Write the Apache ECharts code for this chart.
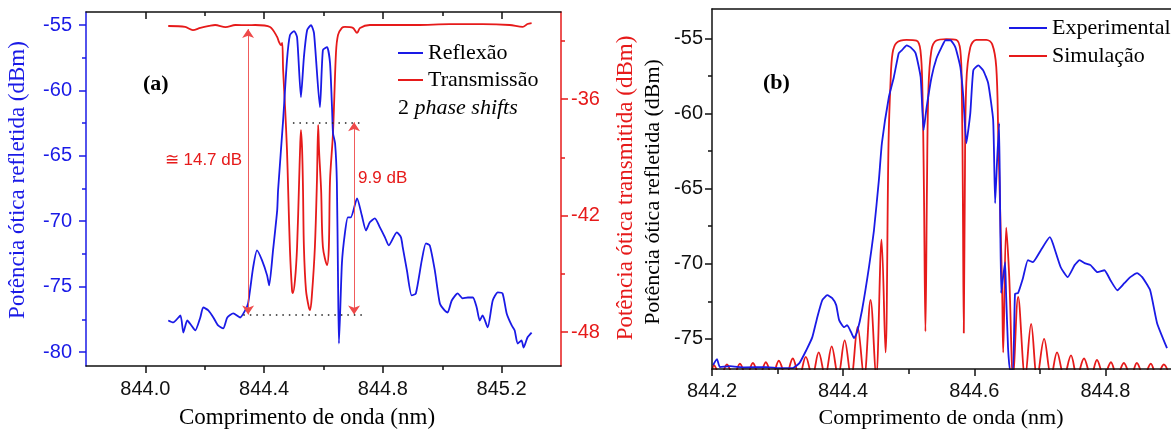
<!DOCTYPE html>
<html>
<head>
<meta charset="utf-8">
<script src="https://cdn.jsdelivr.net/npm/echarts@6/dist/echarts.min.js"></script>
<style>
  html, body { margin: 0; padding: 0; background: #fff; }
  #chart { width: 1171px; height: 433px; }
</style>
</head>
<body>
<div id="chart"></div>
<script>
// ---------- Panel (a): measured spectra, [wavelength nm, dBm] ----------
const reflexao = [
  [844.077,-77.59],[844.094,-77.74],[844.118,-77.21],[844.128,-78.51],[844.141,-77.59],[844.155,-77.97],
  [844.168,-78.35],[844.185,-77.36],[844.195,-76.59],[844.212,-76.82],[844.229,-77.36],[844.245,-77.97],
  [844.262,-78.20],[844.276,-77.36],[844.296,-77.05],[844.319,-77.36],[844.336,-76.82],[844.346,-76.29],
  [844.363,-73.53],[844.376,-72.23],[844.393,-72.99],[844.410,-74.14],[844.417,-74.91],[844.430,-72.23],
  [844.444,-69.17],[844.447,-67.63],[844.464,-62.27],[844.477,-57.68],[844.487,-55.77],[844.501,-55.46],
  [844.511,-55.92],[844.524,-60.51],[844.534,-57.45],[844.545,-55.38],[844.558,-55.00],[844.568,-55.61],
  [844.588,-61.28],[844.598,-56.91],[844.612,-56.68],[844.622,-57.91],[844.629,-61.51],[844.632,-63.27],
  [844.639,-64.04],[844.645,-67.00],[844.649,-74.53],[844.652,-79.35],[844.662,-73.22],[844.672,-70.93],
  [844.682,-69.70],[844.692,-69.70],[844.713,-68.25],[844.729,-69.55],[844.743,-70.70],[844.756,-70.08],
  [844.773,-69.78],[844.790,-70.47],[844.807,-71.23],[844.820,-71.85],[844.847,-70.85],[844.861,-71.23],
  [844.867,-72.00],[844.881,-73.76],[844.897,-75.67],[844.911,-75.52],[844.931,-72.99],[844.945,-71.69],
  [844.958,-71.85],[844.975,-73.76],[844.992,-76.29],[845.008,-76.82],[845.018,-76.98],[845.032,-76.06],
  [845.052,-75.52],[845.069,-75.90],[845.086,-75.83],[845.103,-75.83],[845.116,-76.59],[845.126,-77.59],
  [845.136,-77.21],[845.153,-78.12],[845.170,-76.06],[845.187,-75.44],[845.203,-75.52],[845.217,-77.05],
  [845.234,-77.97],[845.244,-78.35],[845.254,-79.35],[845.267,-79.12],[845.274,-79.66],[845.287,-78.89],
  [845.301,-78.51]
];

const transmissao = [
  [844.077,-32.24],[844.134,-32.29],[844.160,-32.45],[844.185,-32.34],[844.215,-32.24],[844.235,-32.19],
  [844.270,-32.30],[844.303,-32.19],[844.346,-32.20],[844.370,-32.19],[844.420,-32.29],[844.444,-32.81],
  [844.450,-33.06],[844.457,-33.22],[844.461,-33.11],[844.464,-34.51],[844.471,-36.57],[844.477,-38.63],
  [844.481,-40.69],[844.487,-43.78],[844.494,-45.84],[844.497,-45.99],[844.504,-45.32],[844.511,-43.62],
  [844.518,-40.17],[844.521,-38.63],[844.524,-37.60],[844.528,-38.63],[844.531,-40.69],[844.534,-43.62],
  [844.541,-45.84],[844.551,-46.76],[844.555,-46.87],[844.561,-46.09],[844.571,-43.62],[844.578,-40.17],
  [844.582,-37.34],[844.585,-38.63],[844.592,-40.69],[844.598,-43.62],[844.612,-44.55],[844.618,-43.62],
  [844.622,-40.17],[844.632,-37.75],[844.642,-33.63],[844.649,-32.70],[844.662,-32.34],[844.672,-32.29],
  [844.699,-32.34],[844.713,-32.60],[844.723,-32.34],[844.756,-32.19],[844.847,-32.19],[844.914,-32.19],
  [845.025,-32.14],[845.136,-32.14],[845.227,-32.19],[845.271,-32.29],[845.287,-32.14],[845.301,-32.09]
];

// ---------- Panel (b): measured vs simulated reflection ----------
const experimental = [
  [844.2015,-76.74],[844.2076,-76.34],[844.2121,-76.87],[844.2273,-76.81],[844.2500,-76.90],[844.2833,-76.87],
  [844.3030,-76.94],[844.3227,-76.94],[844.3333,-76.61],[844.3439,-75.74],[844.3530,-74.88],[844.3606,-73.55],
  [844.3682,-72.42],[844.3758,-72.09],[844.3833,-72.29],[844.3894,-72.75],[844.3939,-73.75],[844.4015,-74.22],
  [844.4061,-74.08],[844.4121,-74.55],[844.4167,-74.95],[844.4212,-74.55],[844.4288,-73.09],[844.4394,-70.23],
  [844.4470,-67.77],[844.4545,-64.44],[844.4591,-61.98],[844.4697,-58.92],[844.4773,-57.59],[844.4848,-56.00],
  [844.4894,-55.80],[844.4970,-55.47],[844.5030,-55.60],[844.5106,-56.00],[844.5182,-57.59],[844.5227,-61.12],
  [844.5273,-59.59],[844.5348,-57.59],[844.5424,-56.33],[844.5500,-55.60],[844.5561,-55.13],[844.5636,-55.13],
  [844.5712,-55.60],[844.5788,-56.93],[844.5833,-58.92],[844.5879,-61.98],[844.5939,-59.99],[844.5985,-57.13],
  [844.6061,-56.80],[844.6136,-57.13],[844.6212,-57.99],[844.6288,-60.45],[844.6318,-65.97],[844.6348,-63.11],
  [844.6379,-60.65],[844.6409,-71.95],[844.6439,-70.89],[844.6470,-69.89],[844.6485,-72.00],[844.6515,-75.60],
  [844.6545,-77.07],[844.6591,-77.07],[844.6621,-72.00],[844.6667,-71.95],[844.6742,-70.96],[844.6818,-69.76],
  [844.6894,-69.89],[844.7015,-69.10],[844.7152,-68.23],[844.7197,-68.63],[844.7318,-70.23],[844.7424,-70.89],
  [844.7530,-70.09],[844.7606,-69.76],[844.7682,-69.96],[844.7773,-70.09],[844.7879,-70.56],[844.7985,-70.43],
  [844.8076,-71.09],[844.8182,-71.76],[844.8288,-71.29],[844.8379,-70.89],[844.8485,-70.62],[844.8561,-70.89],
  [844.8682,-71.76],[844.8788,-73.95],[844.8939,-75.61]
];

const simulacao = [
  [844.2000,-77.2],[844.2030,-76.75],[844.2129,-77.5],[844.2228,-76.7],[844.2327,-77.5],[844.2426,-76.65],
  [844.2525,-77.5],[844.2624,-76.6],[844.2722,-77.5],[844.2821,-76.55],[844.2920,-77.5],[844.3019,-76.45],
  [844.3125,-77.5],[844.3232,-76.3],[844.3331,-77.5],[844.3430,-76.2],[844.3529,-77.5],[844.3627,-75.9],
  [844.3726,-77.5],[844.3825,-75.5],[844.3924,-77.5],[844.4023,-75.1],[844.4122,-77.6],[844.4221,-74.2],
  [844.4319,-77.6],[844.4418,-72.4],[844.4502,-77.6],[844.4586,-68.4],[844.4646,-75.9],[844.4692,-62.0],
  [844.4722,-58.0],[844.4753,-56.0],[844.4814,-55.3],[844.4966,-55.1],[844.5118,-55.15],[844.5179,-55.8],
  [844.5209,-58.5],[844.5232,-65.0],[844.5255,-74.5],[844.5278,-65.0],[844.5300,-58.5],[844.5346,-55.8],
  [844.5422,-55.15],[844.5574,-55.05],[844.5726,-55.1],[844.5787,-55.8],[844.5810,-58.5],[844.5825,-65.0],
  [844.5840,-74.6],[844.5856,-65.0],[844.5878,-58.0],[844.5939,-55.6],[844.6030,-55.1],[844.6183,-55.1],
  [844.6274,-55.4],[844.6335,-56.9],[844.6365,-61.3],[844.6395,-66.5],[844.6426,-72.0],[844.6441,-75.9],
  [844.6487,-67.6],[844.6532,-70.8],[844.6593,-77.6],[844.6669,-72.2],[844.6776,-77.6],[844.6867,-74.0],
  [844.6958,-77.6],[844.7065,-75.0],[844.7171,-77.5],[844.7262,-75.9],[844.7369,-77.5],[844.7475,-76.1],
  [844.7567,-77.5],[844.7673,-76.3],[844.7779,-77.5],[844.7871,-76.4],[844.7977,-77.5],[844.8084,-76.55],
  [844.8175,-77.5],[844.8281,-76.6],[844.8388,-77.5],[844.8479,-76.6],[844.8586,-77.5],[844.8692,-76.65],
  [844.8783,-77.5],[844.8890,-76.7],[844.8981,-77.5]
];

// ---------- Tick positions ----------
const xTicksA  = [844.0, 844.4, 844.8, 845.2];
const xMinorA  = [844.2, 844.6, 845.0];
const yTicksAL = [-80, -75, -70, -65, -60, -55];
const yMinorAL = [-77.5, -72.5, -67.5, -62.5, -57.5];
const yTicksAR = [-48, -42, -36];
const yMinorAR = [-45, -39, -33];
const xTicksB  = [844.2, 844.4, 844.6, 844.8];
const xMinorB  = [844.3, 844.5, 844.7];
const yTicksB  = [-75, -70, -65, -60, -55];
const yMinorB  = [-72.5, -67.5, -62.5, -57.5];

// ---------- Axis ranges ----------
const xRangeA  = [843.8, 845.4];
const yRangeAL = [-81.07, -54.0];
const yRangeAR = [-49.75, -31.52];
const xRangeB  = [844.2, 844.9];
const yRangeB  = [-77.0, -53.05];

// ---------- Extinction annotations (transmission axis, dB) ----------
const dipLevel      = -47.1;   // common floor of both measurements
const depthTotal    = 14.7;    // full stop-band depth
const depthPhase    = 9.9;     // depth of the phase-shift windows
const arrowWlTotal  = 844.346;
const arrowWlPhase  = 844.703;
const guideLow      = [844.33, 844.73];
const guidePhase    = [844.497, 844.73];

const BLUE  = '#1a1ae6';
const RED   = '#e61a1a';
const BLACK = '#111';
const SANS  = '"Liberation Sans", Arial, sans-serif';
const SERIF = '"Liberation Serif", "Times New Roman", serif';

const fmt1 = v => v.toFixed(1);
const fmt0 = v => String(Math.round(v));

function axis(opts) {
  return {
    type: 'value', scale: true, gridIndex: opts.grid, position: opts.position,
    min: opts.range[0], max: opts.range[1],
    splitLine: { show: false },
    axisLine: { show: !!opts.line, onZero: false, lineStyle: { color: opts.color, width: 1.5 } },
    axisTick: { show: !!opts.ticks, inside: !!opts.inside, customValues: opts.ticks || [],
                length: opts.tickLen || 7, lineStyle: { color: opts.color, width: 1.5 } },
    axisLabel: { show: !!opts.labels, customValues: opts.labels || [], margin: opts.margin || 8,
                 color: opts.color, fontFamily: SANS, fontSize: 20,
                 showMinLabel: true, showMaxLabel: true, formatter: opts.fmt || fmt0 },
    z: 5
  };
}

const chart = echarts.init(document.getElementById('chart'), null, { renderer: 'canvas' });

const legendText = { fontFamily: SERIF, fontSize: 22, color: '#000' };

const option = {
  animation: false,
  backgroundColor: '#fff',
  grid: [
    { left: 86,  top: 12, width: 475, height: 354 },
    { left: 712, top: 9,  width: 460, height: 360 }
  ],
  xAxis: [
    axis({ grid: 0, position: 'bottom', range: xRangeA, color: BLACK, line: true,
           ticks: xTicksA, labels: xTicksA, margin: 13, fmt: fmt1 }),
    axis({ grid: 0, position: 'bottom', range: xRangeA, color: BLACK, ticks: xMinorA, tickLen: 4 }),
    axis({ grid: 0, position: 'top', range: xRangeA, color: BLACK, line: true, ticks: xTicksA, inside: true }),
    axis({ grid: 0, position: 'top', range: xRangeA, color: BLACK, ticks: xMinorA, inside: true, tickLen: 4 }),
    axis({ grid: 1, position: 'bottom', range: xRangeB, color: BLACK, line: true,
           ticks: xTicksB, labels: xTicksB, margin: 12, fmt: fmt1 }),
    axis({ grid: 1, position: 'bottom', range: xRangeB, color: BLACK, ticks: xMinorB, tickLen: 5 }),
    axis({ grid: 1, position: 'top', range: xRangeB, color: BLACK, line: true })
  ],
  yAxis: [
    axis({ grid: 0, position: 'left', range: yRangeAL, color: BLUE, line: true,
           ticks: yTicksAL, labels: yTicksAL, margin: 14 }),
    axis({ grid: 0, position: 'left', range: yRangeAL, color: BLUE, ticks: yMinorAL, tickLen: 4 }),
    axis({ grid: 0, position: 'right', range: yRangeAR, color: RED, line: true,
           ticks: yTicksAR, labels: yTicksAR, margin: 10 }),
    axis({ grid: 0, position: 'right', range: yRangeAR, color: RED, ticks: yMinorAR, tickLen: 4 }),
    axis({ grid: 1, position: 'left', range: yRangeB, color: BLACK, line: true,
           ticks: yTicksB, labels: yTicksB, margin: 9 }),
    axis({ grid: 1, position: 'left', range: yRangeB, color: BLACK, ticks: yMinorB, tickLen: 4 })
  ],
  legend: [
    { data: [{ name: 'Reflexão', icon: 'rect' }, { name: 'Transmissão', icon: 'rect' }],
      orient: 'vertical', left: 398, top: 42, padding: 0, itemWidth: 25, itemHeight: 2, itemGap: 5,
      selectedMode: false, textStyle: legendText },
    { data: [{ name: 'Experimental', icon: 'rect' }, { name: 'Simulação', icon: 'rect' }],
      orient: 'vertical', left: 1009, top: 17, padding: 0, itemWidth: 38, itemHeight: 2, itemGap: 6,
      selectedMode: false, textStyle: legendText }
  ],
  series: [
    { name: 'Reflexão', type: 'line', xAxisIndex: 0, yAxisIndex: 0, data: reflexao,
      symbol: 'none', smooth: 0.2, color: BLUE, lineStyle: { width: 1.8, color: BLUE }, z: 3 },
    { name: 'Transmissão', type: 'line', xAxisIndex: 0, yAxisIndex: 2, data: transmissao,
      symbol: 'none', smooth: 0.3, color: RED, lineStyle: { width: 1.8, color: RED }, z: 2,
      markLine: {
        silent: true, animation: false, label: { show: false },
        data: [
          [ { coord: [arrowWlTotal, dipLevel], symbol: 'arrow', symbolSize: 9,
              lineStyle: { color: '#ee4a4a', width: 0.9, type: 'solid' } },
            { coord: [arrowWlTotal, dipLevel + depthTotal], symbol: 'arrow', symbolSize: 9 } ],
          [ { coord: [arrowWlPhase, dipLevel], symbol: 'arrow', symbolSize: 9,
              lineStyle: { color: '#ee4a4a', width: 0.9, type: 'solid' } },
            { coord: [arrowWlPhase, dipLevel + depthPhase], symbol: 'arrow', symbolSize: 9 } ],
          [ { coord: [guideLow[0], dipLevel], symbol: 'none',
              lineStyle: { color: '#222', width: 1.5, type: [1.5, 5] } },
            { coord: [guideLow[1], dipLevel], symbol: 'none' } ],
          [ { coord: [guidePhase[0], dipLevel + depthPhase], symbol: 'none',
              lineStyle: { color: '#222', width: 1.5, type: [1.5, 5] } },
            { coord: [guidePhase[1], dipLevel + depthPhase], symbol: 'none' } ]
        ]
      },
      markPoint: {
        silent: true, animation: false, symbolSize: 0,
        data: [
          { coord: [arrowWlTotal, dipLevel + depthTotal / 2],
            label: { show: true, position: 'left', distance: 6, offset: [0, -12],
                     formatter: '≅ ' + depthTotal.toFixed(1) + ' dB',
                     color: RED, fontFamily: SANS, fontSize: 17 } },
          { coord: [arrowWlPhase, dipLevel + depthPhase / 2],
            label: { show: true, position: 'right', distance: 4, offset: [0, -40],
                     formatter: depthPhase.toFixed(1) + ' dB',
                     color: RED, fontFamily: SANS, fontSize: 17 } }
        ]
      }
    },
    { name: 'Experimental', type: 'line', xAxisIndex: 4, yAxisIndex: 4, data: experimental,
      symbol: 'none', smooth: 0.15, color: BLUE, lineStyle: { width: 1.8, color: BLUE }, z: 3 },
    { name: 'Simulação', type: 'line', xAxisIndex: 4, yAxisIndex: 4, data: simulacao,
      symbol: 'none', smooth: 0.35, color: RED, lineStyle: { width: 1.8, color: RED }, z: 2 }
  ],
  graphic: [
    { type: 'text', x: 143, y: 84, style: { text: '(a)', font: 'bold 22px ' + SERIF, fill: '#000',
      textVerticalAlign: 'middle' } },
    { type: 'text', x: 763, y: 83, style: { text: '(b)', font: 'bold 22px ' + SERIF, fill: '#000',
      textVerticalAlign: 'middle' } },
    { type: 'text', x: 398, y: 108, style: {
      text: '{n|2 }{i|phase shifts}', textVerticalAlign: 'middle',
      rich: { n: { fontFamily: SERIF, fontSize: 22, fill: '#000' },
              i: { fontFamily: SERIF, fontSize: 22, fontStyle: 'italic', fill: '#000' } } } },
    { type: 'text', x: 307, y: 418, style: { text: 'Comprimento de onda (nm)', font: '23px ' + SERIF,
      fill: '#000', textAlign: 'center', textVerticalAlign: 'middle' } },
    { type: 'text', x: 941, y: 418, style: { text: 'Comprimento de onda (nm)', font: '22px ' + SERIF,
      fill: '#000', textAlign: 'center', textVerticalAlign: 'middle' } },
    { type: 'text', x: 18, y: 180, rotation: Math.PI / 2, style: { text: 'Potência ótica refletida (dBm)',
      font: '23px ' + SERIF, fill: BLUE, textAlign: 'center', textVerticalAlign: 'middle' } },
    { type: 'text', x: 626, y: 188, rotation: Math.PI / 2, style: { text: 'Potência ótica transmitida (dBm)',
      font: '23px ' + SERIF, fill: RED, textAlign: 'center', textVerticalAlign: 'middle' } },
    { type: 'text', x: 653, y: 192, rotation: Math.PI / 2, style: { text: 'Potência ótica refletida (dBm)',
      font: '22px ' + SERIF, fill: '#000', textAlign: 'center', textVerticalAlign: 'middle' } }
  ]
};

chart.setOption(option);
</script>
</body>
</html>
